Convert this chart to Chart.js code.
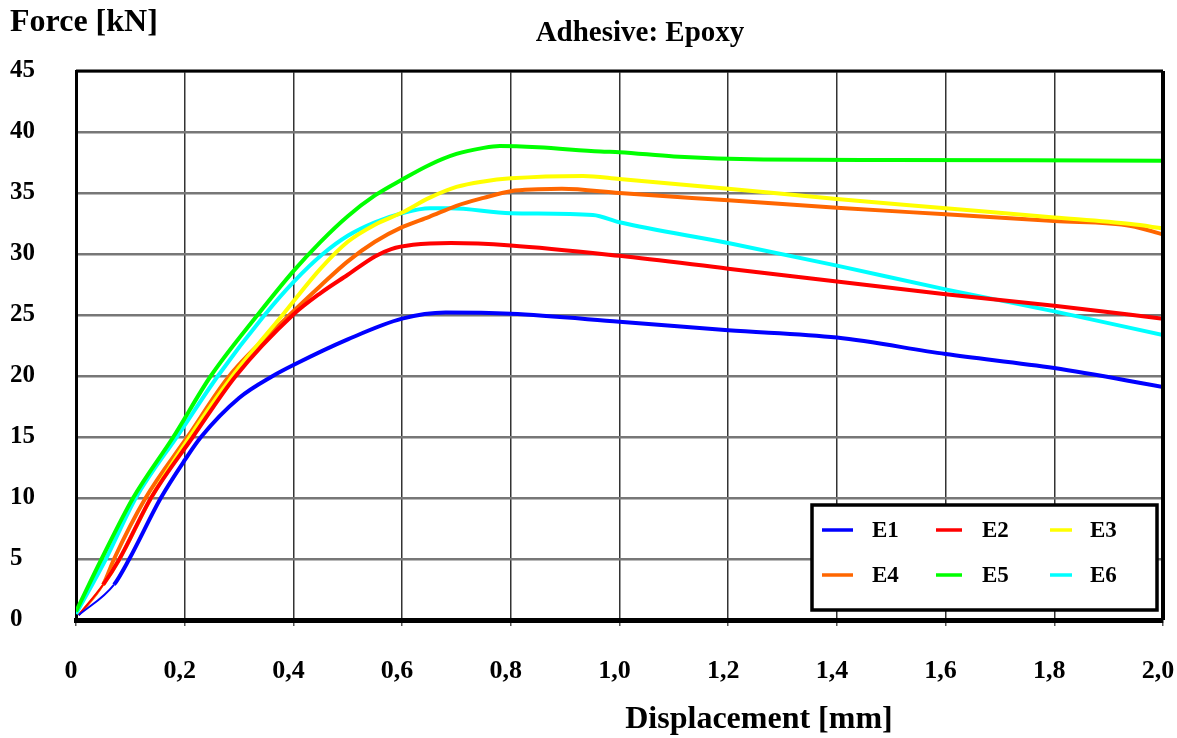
<!DOCTYPE html>
<html>
<head>
<meta charset="utf-8">
<title>Adhesive: Epoxy</title>
<script src="https://cdn.jsdelivr.net/npm/chart.js@4.4.1/dist/chart.umd.min.js"></script>
<style>
  html, body { margin: 0; padding: 0; background: #fff; }
  #wrap { position: relative; width: 1177px; height: 738px; }
</style>
</head>
<body>
<div id="wrap"><canvas id="chart" width="1177" height="738"></canvas></div>
<script>
// displacement [mm], force [kN]
const seriesNames = ["E1", "E2", "E3", "E4", "E5", "E6"];
const seriesColors = ["#0000ff", "#ff0000", "#ffff00", "#ff6600", "#00ff00", "#00ffff"];

const e1 = [[0.005, 0.4], [0.07, 2.9], [0.098, 5], [0.156, 10], [0.2, 13.1], [0.23, 15], [0.3, 18.2],
  [0.362, 20], [0.4, 20.9], [0.5, 23.0], [0.6, 24.7], [0.68, 25.2], [0.8, 25.1],
  [1.0, 24.45], [1.2, 23.75], [1.4, 23.15], [1.6, 21.8], [1.8, 20.65], [2.0, 19.1]];

const e2 = [[0.005, 0.4], [0.05, 2.9], [0.08, 5], [0.138, 10], [0.215, 15], [0.294, 20], [0.399, 25],
  [0.45, 26.8], [0.5, 28.3], [0.55, 29.8], [0.58, 30.4], [0.62, 30.75], [0.69, 30.9], [0.8, 30.7],
  [1.0, 29.85], [1.2, 28.8], [1.4, 27.75], [1.6, 26.7], [1.8, 25.75], [2.0, 24.7]];

const e3 = [[0.005, 0.4], [0.05, 2.9], [0.08, 5], [0.138, 10], [0.209, 15], [0.288, 20], [0.38, 25],
  [0.45, 28.8], [0.5, 31.0], [0.55, 32.4], [0.6, 33.4], [0.65, 34.6], [0.7, 35.5], [0.75, 35.95],
  [0.8, 36.2], [0.933, 36.4], [1.0, 36.15], [1.2, 35.35], [1.4, 34.5], [1.6, 33.75], [1.8, 33.0],
  [1.941, 32.45], [2.0, 32.1]];

const e4 = [[0.005, 0.4], [0.05, 2.9], [0.07, 5], [0.128, 10], [0.205, 15],
  [0.282, 20], [0.393, 25], [0.45, 27.4], [0.5, 29.4], [0.55, 31.0], [0.6, 32.2], [0.65, 33.05],
  [0.7, 33.95], [0.75, 34.6], [0.8, 35.15], [0.85, 35.3], [0.894, 35.35], [1.0, 35.0], [1.2, 34.4],
  [1.4, 33.8], [1.6, 33.25], [1.8, 32.7], [1.941, 32.3], [2.0, 31.6]];

const e5 = [[0.0, 0.7], [0.047, 5], [0.105, 10], [0.179, 15], [0.248, 20],
  [0.334, 25], [0.4, 28.6], [0.45, 31.0], [0.5, 33.1], [0.55, 34.8], [0.6, 36.1], [0.65, 37.3],
  [0.7, 38.2], [0.75, 38.7], [0.78, 38.85], [0.85, 38.75], [0.965, 38.4], [1.0, 38.35], [1.1, 38.0],
  [1.265, 37.75], [1.5, 37.7], [2.0, 37.65]];

const e6 = [[0.0, 0.5], [0.055, 5], [0.11, 10], [0.19, 15.3], [0.261, 20],
  [0.347, 25], [0.4, 27.7], [0.454, 30], [0.5, 31.5], [0.55, 32.6], [0.6, 33.35], [0.651, 33.75],
  [0.688, 33.75], [0.8, 33.35], [0.951, 33.2], [1.0, 32.6], [1.2, 30.9], [1.4, 29.05], [1.6, 27.1],
  [1.8, 25.3], [2.0, 23.35]];

const allSeries = [e1, e2, e3, e4, e5, e6];

const xTicks = [0, 0.2, 0.4, 0.6, 0.8, 1.0, 1.2, 1.4, 1.6, 1.8, 2.0];
const xTickLabels = ["0", "0,2", "0,4", "0,6", "0,8", "1,0", "1,2", "1,4", "1,6", "1,8", "2,0"];
const yTicks = [0, 5, 10, 15, 20, 25, 30, 35, 40, 45];

const FONT = "'Liberation Serif', 'Times New Roman', serif";

// titles, frame and the boxed legend
const decorPlugin = {
  id: "decor",
  afterDatasetsDraw(chart) {
    const { ctx, chartArea } = chart;
    ctx.save();
    ctx.strokeStyle = "#000";
    ctx.lineWidth = 3;
    ctx.beginPath();
    ctx.moveTo(chartArea.left, chartArea.top);
    ctx.lineTo(chartArea.right, chartArea.top);
    ctx.stroke();
    ctx.lineWidth = 4;
    ctx.beginPath();
    ctx.moveTo(chartArea.right, chartArea.top);
    ctx.lineTo(chartArea.right, chartArea.bottom);
    ctx.stroke();
    ctx.restore();
  },
  afterDraw(chart) {
    const { ctx } = chart;
    ctx.save();
    ctx.fillStyle = "#000";
    ctx.textBaseline = "middle";

    ctx.font = "bold 32px " + FONT;
    ctx.textAlign = "left";
    ctx.fillText("Force [kN]", 10, 23);

    ctx.font = "bold 29px " + FONT;
    ctx.textAlign = "center";
    ctx.fillText("Adhesive: Epoxy", 640, 34);

    ctx.font = "bold 32px " + FONT;
    ctx.fillText("Displacement [mm]", 759, 720);

    // legend box
    ctx.fillStyle = "#fff";
    ctx.fillRect(812, 505, 345, 105);
    ctx.strokeStyle = "#000";
    ctx.lineWidth = 3.5;
    ctx.strokeRect(812, 505, 345, 105);

    const cols = [[822, 853, 872], [936, 962, 982], [1050, 1072, 1090]];
    const rows = [530, 575];
    ctx.font = "bold 23px " + FONT;
    ctx.textAlign = "left";
    chart.data.datasets.forEach((ds, i) => {
      const c = cols[i % 3];
      const y = rows[Math.floor(i / 3)];
      ctx.strokeStyle = ds.borderColor;
      ctx.lineWidth = 3.5;
      ctx.beginPath();
      ctx.moveTo(c[0], y);
      ctx.lineTo(c[1], y);
      ctx.stroke();
      ctx.fillStyle = "#000";
      ctx.fillText(ds.label, c[2], y + 1);
    });
    ctx.restore();
  }
};

new Chart(document.getElementById("chart"), {
  type: "line",
  data: {
    datasets: allSeries.map((pts, i) => ({
      label: seriesNames[i],
      data: pts.map(p => ({ x: p[0], y: p[1] })),
      borderColor: seriesColors[i],
      backgroundColor: seriesColors[i],
      borderWidth: 4,
      pointRadius: 0,
      cubicInterpolationMode: "monotone",
      fill: false,
      segment: {
        borderWidth: c => (c.p0DataIndex === 0 && i < 4 ? 2 : 4)
      }
    }))
  },
  options: {
    responsive: false,
    animation: false,
    layout: { padding: { left: 10, right: 14, top: 71, bottom: 0 } },
    plugins: {
      legend: { display: false },
      tooltip: { enabled: false },
      title: { display: false }
    },
    scales: {
      x: {
        type: "linear",
        min: 0,
        max: 2,
        afterBuildTicks: scale => { scale.ticks = xTicks.map(v => ({ value: v })); },
        afterFit: scale => {
          scale.height = 118;
          scale.paddingLeft = 0;
          scale.paddingRight = 0;
        },
        ticks: {
          color: "#000",
          font: { family: FONT, size: 26, weight: "bold" },
          padding: 30,
          labelOffset: -5,
          maxRotation: 0,
          autoSkip: false,
          callback: (v, idx) => xTickLabels[idx]
        },
        grid: { color: "#333", lineWidth: 1.5, tickLength: 6, tickColor: "#555" },
        border: { color: "#000", width: 5 }
      },
      y: {
        min: 0,
        max: 45,
        afterBuildTicks: scale => { scale.ticks = yTicks.map(v => ({ value: v })); },
        afterFit: scale => { scale.width = 66; },
        ticks: {
          color: "#000",
          font: { family: FONT, size: 25, weight: "bold" },
          crossAlign: "far",
          padding: 4,
          callback: v => String(v)
        },
        grid: { color: "#777", lineWidth: 2.5, tickLength: 0 },
        border: { color: "#000", width: 3 }
      }
    }
  },
  plugins: [decorPlugin]
});
</script>
</body>
</html>
